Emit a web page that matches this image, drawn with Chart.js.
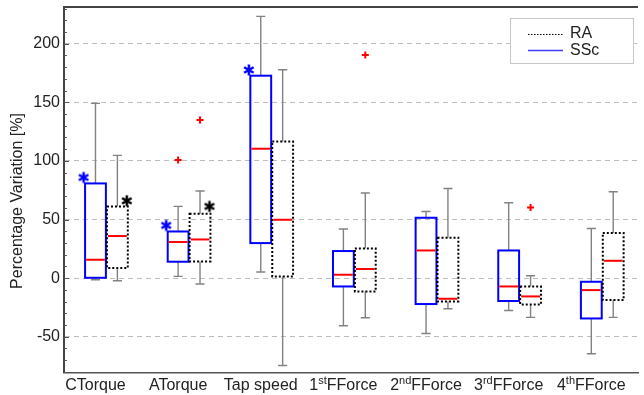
<!DOCTYPE html>
<html>
<head>
<meta charset="utf-8">
<script src="https://cdn.jsdelivr.net/npm/chart.js@4.4.0/dist/chart.umd.min.js"></script>
<style>
  html, body { margin: 0; padding: 0; background: #fff; }
  #chart { display: block; }
</style>
</head>
<body>
<canvas id="chart" width="644" height="395"></canvas>
<script>
// categories, ^{..} marks a superscript
var categories = ['CTorque', 'ATorque', 'Tap speed', '1^{st}FForce', '2^{nd}FForce', '3^{rd}FForce', '4^{th}FForce'];
var yTicks = [-50, 0, 50, 100, 150, 200];

// SSc box plots
var sscLow  = [-1.4, 1.5, 5.2, -40.6, -47.2, -27.6, -64.5];
var sscQ1   = [0.3, 14.0, 29.9, -7.1, -22.1, -19.5, -34.4];
var sscMed  = [15.7, 30.8, 110.4, 2.9, 23.6, -7.1, -10.2];
var sscQ3   = [80.8, 39.8, 172.7, 23.1, 51.5, 23.6, -3.1];
var sscHigh = [149.1, 61.2, 223.3, 41.9, 56.9, 64.3, 42.4];
var sscOutliers = [[], [100.8], [], [], [], [], []];
var sscStars = [85.9, 45.0, 177.6, null, null, null, null];

// RA box plots
var raLow  = [-2.2, -5.0, -74.5, -33.8, -26.1, -33.5, -33.5];
var raQ1   = [8.6, 14.2, 1.5, -11.3, -19.9, -22.4, -18.7];
var raMed  = [35.9, 33.0, 49.8, 7.8, -17.6, -15.6, 14.8];
var raQ3   = [61.2, 55.0, 116.6, 25.3, 34.5, -7.1, 38.5];
var raHigh = [104.7, 74.3, 177.8, 72.6, 76.5, 2.0, 73.7];
var raOutliers = [[], [135.0], [], [190.4], [], [60.3], []];
var raStars = [66.0, 61.2, null, null, null, null, null];

var RA_SHIFT = 0.265;
var BOX_HALF = 0.126;
var CAP_HALF = 0.055;
var FONT = "'Liberation Sans', Arial, Helvetica, sans-serif";

var sscStats = { low: sscLow, q1: sscQ1, med: sscMed, q3: sscQ3, high: sscHigh };
var raStats = { low: raLow, q1: raQ1, med: raMed, q3: raQ3, high: raHigh };

function outlierPoints(list, shift) {
    var pts = [];
    list.forEach(function (vals, i) {
        vals.forEach(function (v) {
            pts.push({ x: i + 1 + shift, y: v });
        });
    });
    return pts;
}

function starPoints(list, shift) {
    var pts = [];
    list.forEach(function (v, i) {
        if (v !== null) pts.push({ x: i + 1 + shift, y: v });
    });
    return pts;
}

// six armed asterisk used as point style
function makeStar(color) {
    var c = document.createElement('canvas');
    c.width = 14;
    c.height = 14;
    var g = c.getContext('2d');
    g.strokeStyle = color;
    g.lineWidth = 2.5;
    g.lineCap = 'butt';
    g.beginPath();
    [90, 30, 150].forEach(function (a) {
        var r = a * Math.PI / 180;
        g.moveTo(7 - 5.5 * Math.cos(r), 7 - 5.5 * Math.sin(r));
        g.lineTo(7 + 5.5 * Math.cos(r), 7 + 5.5 * Math.sin(r));
    });
    g.stroke();
    return c;
}

function drawGroup(ctx, xs, ys, s, shift, color, dash) {
    for (var i = 0; i < categories.length; i++) {
        var pos = i + 1 + shift;
        var cx = xs.getPixelForValue(pos);
        var left = xs.getPixelForValue(pos - BOX_HALF);
        var right = xs.getPixelForValue(pos + BOX_HALF);
        var capL = xs.getPixelForValue(pos - CAP_HALF);
        var capR = xs.getPixelForValue(pos + CAP_HALF);
        var pLow = ys.getPixelForValue(s.low[i]);
        var pQ1 = ys.getPixelForValue(s.q1[i]);
        var pMed = ys.getPixelForValue(s.med[i]);
        var pQ3 = ys.getPixelForValue(s.q3[i]);
        var pHigh = ys.getPixelForValue(s.high[i]);

        ctx.save();
        // whiskers
        ctx.strokeStyle = '#828282';
        ctx.lineWidth = 1.4;
        ctx.setLineDash([]);
        ctx.beginPath();
        ctx.moveTo(cx, pQ3); ctx.lineTo(cx, pHigh);
        ctx.moveTo(capL, pHigh); ctx.lineTo(capR, pHigh);
        ctx.moveTo(cx, pQ1); ctx.lineTo(cx, pLow);
        ctx.moveTo(capL, pLow); ctx.lineTo(capR, pLow);
        ctx.stroke();
        // box
        ctx.strokeStyle = color;
        ctx.lineWidth = 2;
        ctx.setLineDash(dash);
        ctx.strokeRect(left, pQ3, right - left, pQ1 - pQ3);
        // median
        ctx.setLineDash([]);
        ctx.strokeStyle = '#ff0000';
        ctx.beginPath();
        ctx.moveTo(left + 1, pMed); ctx.lineTo(right - 1, pMed);
        ctx.stroke();
        ctx.restore();
    }
}

function drawCategoryLabel(ctx, text, cx, baseline) {
    var parts = [], re = /\^\{([^}]*)\}/g, last = 0, m;
    while ((m = re.exec(text)) !== null) {
        if (m.index > last) parts.push({ t: text.slice(last, m.index), sup: false });
        parts.push({ t: m[1], sup: true });
        last = re.lastIndex;
    }
    if (last < text.length) parts.push({ t: text.slice(last), sup: false });

    var total = 0;
    parts.forEach(function (p) {
        ctx.font = (p.sup ? '11px ' : '16px ') + FONT;
        p.w = ctx.measureText(p.t).width;
        total += p.w;
    });
    var x = cx - total / 2;
    ctx.textAlign = 'left';
    ctx.textBaseline = 'alphabetic';
    parts.forEach(function (p) {
        ctx.font = (p.sup ? '11px ' : '16px ') + FONT;
        ctx.fillText(p.t, x, p.sup ? baseline - 6 : baseline);
        x += p.w;
    });
}

var boxPlots = {
    id: 'boxPlots',
    beforeDatasetsDraw: function (chart) {
        var ctx = chart.ctx, xs = chart.scales.x, ys = chart.scales.y;
        drawGroup(ctx, xs, ys, sscStats, 0, '#0000ff', []);
        drawGroup(ctx, xs, ys, raStats, RA_SHIFT, '#000000', [2, 2]);
    },
    afterDraw: function (chart) {
        var ctx = chart.ctx, area = chart.chartArea, xs = chart.scales.x, ys = chart.scales.y;
        ctx.save();

        // top frame line
        ctx.strokeStyle = '#444';
        ctx.lineWidth = 2;
        ctx.beginPath();
        ctx.moveTo(area.left, area.top);
        ctx.lineTo(area.right, area.top);
        ctx.stroke();

        // inner y ticks, minor every 10
        ctx.strokeStyle = '#555';
        ctx.lineWidth = 1;
        ctx.beginPath();
        for (var v = -80; v <= 230; v += 10) {
            var py = Math.round(ys.getPixelForValue(v)) + 0.5;
            var len = v % 50 === 0 ? 5 : 3;
            ctx.moveTo(area.left, py);
            ctx.lineTo(area.left + len, py);
        }
        ctx.stroke();

        // category labels
        ctx.fillStyle = '#222';
        categories.forEach(function (c, i) {
            drawCategoryLabel(ctx, c, xs.getPixelForValue(i + 1), 390);
        });

        // y title
        ctx.save();
        ctx.translate(18, 201);
        ctx.rotate(-Math.PI / 2);
        ctx.font = '16px ' + FONT;
        ctx.textAlign = 'center';
        ctx.textBaseline = 'middle';
        ctx.fillText('Percentage Variation [%]', 0, 0);
        ctx.restore();

        // legend
        ctx.fillStyle = '#fff';
        ctx.fillRect(510.5, 18.5, 123, 45);
        ctx.strokeStyle = '#c8c8c8';
        ctx.lineWidth = 1;
        ctx.strokeRect(510.5, 18.5, 123, 45);
        ctx.strokeStyle = '#000';
        ctx.setLineDash([1.5, 1.5]);
        ctx.beginPath();
        ctx.moveTo(528, 34.5); ctx.lineTo(563, 34.5);
        ctx.stroke();
        ctx.setLineDash([]);
        ctx.strokeStyle = '#3c3cff';
        ctx.lineWidth = 1.5;
        ctx.beginPath();
        ctx.moveTo(528, 50.5); ctx.lineTo(563, 50.5);
        ctx.stroke();
        ctx.fillStyle = '#222';
        ctx.font = '16px ' + FONT;
        ctx.textAlign = 'left';
        ctx.textBaseline = 'middle';
        ctx.fillText('RA', 570, 34);
        ctx.fillText('SSc', 570, 51);

        ctx.restore();
    }
};

var chart = new Chart(document.getElementById('chart').getContext('2d'), {
    type: 'scatter',
    data: {
        datasets: [{
            label: 'SSc outliers',
            data: outlierPoints(sscOutliers, 0),
            pointStyle: 'cross',
            radius: 3.5,
            borderColor: '#ff0000',
            borderWidth: 2
        }, {
            label: 'RA outliers',
            data: outlierPoints(raOutliers, RA_SHIFT),
            pointStyle: 'cross',
            radius: 3.5,
            borderColor: '#ff0000',
            borderWidth: 2
        }, {
            label: 'SSc significance',
            data: starPoints(sscStars, -0.144),
            pointStyle: makeStar('#0000ff')
        }, {
            label: 'RA significance',
            data: starPoints(raStars, RA_SHIFT + 0.114),
            pointStyle: makeStar('#000000')
        }]
    },
    options: {
        responsive: false,
        animation: false,
        layout: { padding: { top: 7, right: 0, bottom: 0, left: 0 } },
        plugins: {
            legend: { display: false },
            tooltip: { enabled: false }
        },
        scales: {
            x: {
                type: 'linear',
                min: 0.619,
                max: 7.565,
                ticks: { display: false },
                grid: { display: false },
                border: { display: true, color: '#555', width: 1.5 },
                afterFit: function (s) {
                    s.height = 22.5;
                    s.paddingLeft = 0;
                    s.paddingRight = 0;
                }
            },
            y: {
                min: -80.5,
                max: 231.3,
                afterBuildTicks: function (s) {
                    s.ticks = yTicks.map(function (v) { return { value: v }; });
                },
                ticks: {
                    padding: 4,
                    color: '#222',
                    font: { family: FONT, size: 16 }
                },
                grid: { color: '#bdbdbd', lineWidth: 1, drawTicks: false },
                border: { display: true, color: '#444', width: 2, dash: [5, 4] },
                afterFit: function (s) {
                    s.width = 64;
                    s.paddingTop = 0;
                    s.paddingBottom = 0;
                }
            }
        }
    },
    plugins: [boxPlots]
});
</script>
</body>
</html>
